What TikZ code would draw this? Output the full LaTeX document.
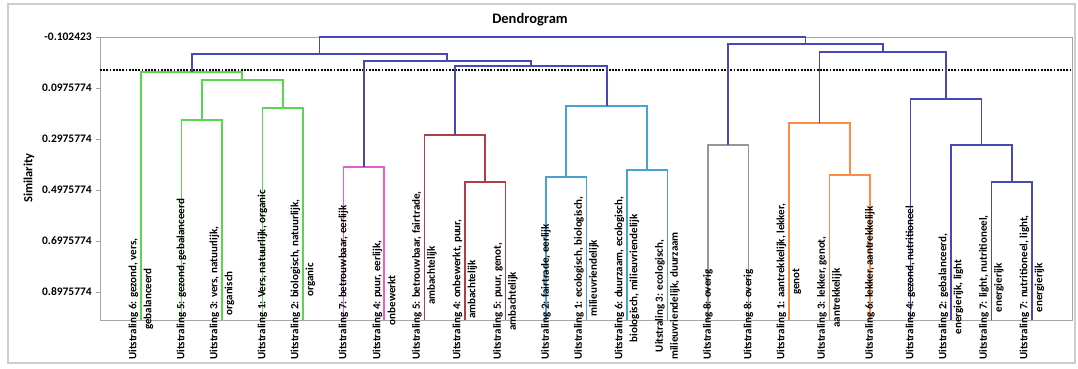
\documentclass[tikz,border=0pt]{standalone}
\usepackage{fontspec}
\setmainfont{Carlito}
\definecolor{cgreen}{RGB}{88,214,80}
\definecolor{cblue}{RGB}{72,72,182}
\definecolor{cpink}{RGB}{232,92,204}
\definecolor{cbrown}{RGB}{176,62,72}
\definecolor{ccyan}{RGB}{72,162,210}
\definecolor{cgrey}{RGB}{150,150,150}
\definecolor{corange}{RGB}{250,140,70}
\definecolor{frameg}{RGB}{165,165,165}
\definecolor{outerg}{RGB}{205,205,205}
\begin{document}
\begin{tikzpicture}[x=1pt,y=-1pt,
  link/.style={line width=1.8pt},
  leaflabel/.style={rotate=90,anchor=west,align=center,inner sep=0pt,
    font=\bfseries\fontsize{11}{15}\selectfont},
  ticklabel/.style={anchor=east,inner sep=0pt,font=\bfseries\fontsize{11.5}{13}\selectfont},
  tickmark/.style={draw=frameg,line width=0.8pt}]
\useasboundingbox (0,0) rectangle (1078,369);
\draw[outerg,line width=1.5pt] (8,4) rectangle (1075,363);
\draw[frameg,line width=0.9pt] (100,37) rectangle (1072,320);
% title and axis
\node[font=\bfseries\fontsize{14.5}{16}\selectfont] (title) at (530,20) {Dendrogram};
\node[rotate=90,font=\bfseries\fontsize{12.5}{14}\selectfont] (ylab) at (29,178) {Similarity};
\foreach \v/\yy [count=\k] in {-0.102423/37,0.0975774/88,0.2975774/139,0.4975774/190,0.6975774/241,0.8975774/292}{
  \draw[tickmark] (96,\yy) -- (100,\yy);
  \node[ticklabel] (tk\k) at (92,\yy) {\v};
}
% cut line
\coordinate (cutA) at (100,70);
\coordinate (cutB) at (1072,70);
\draw[black,line width=1.1pt,dash pattern=on 1.8pt off 1.4pt] (cutA) -- (cutB);
% leaves
\foreach \i in {0,...,22}{
  \coordinate (L\i) at ({141+40.5*\i},320);
}
% internal nodes
\coordinate (g12) at (201.75,120);
\coordinate (g34) at (282.75,108);
\coordinate (gA) at (242.25,80);
\coordinate (gR) at (191.6,72);
\coordinate (p) at (363.75,167);
\coordinate (b89) at (485.25,182);
\coordinate (bR) at (454.9,135);
\coordinate (c01) at (566.25,177);
\coordinate (c23) at (647.25,170);
\coordinate (cR) at (606.75,106);
\coordinate (n1) at (530.8,66);
\coordinate (n2) at (447.3,61);
\coordinate (n3) at (319.4,54);
\coordinate (gy) at (728.25,145);
\coordinate (o78) at (849.75,175);
\coordinate (oR) at (819.4,123);
\coordinate (bl) at (1011.75,182);
\coordinate (bl2) at (981.4,145);
\coordinate (bl3) at (946,99);
\coordinate (m1) at (882.7,52);
\coordinate (m2) at (805.5,44);
\coordinate (root) at (562.4,37);
% green
\draw[link,cgreen] (L1) |- (g12) -| (L2);
\draw[link,cgreen] (L3) |- (g34) -| (L4);
\draw[link,cgreen] (g12) |- (gA) -| (g34);
\draw[link,cgreen] (L0) |- (gR) -| (gA);
% pink
\draw[link,cpink] (L5) |- (p) -| (L6);
% brown
\draw[link,cbrown] (L8) |- (b89) -| (L9);
\draw[link,cbrown] (L7) |- (bR) -| (b89);
% cyan
\draw[link,ccyan] (L10) |- (c01) -| (L11);
\draw[link,ccyan] (L12) |- (c23) -| (L13);
\draw[link,ccyan] (c01) |- (cR) -| (c23);
% grey
\draw[link,cgrey] (L14) |- (gy) -| (L15);
% orange
\draw[link,corange] (L17) |- (o78) -| (L18);
\draw[link,corange] (L16) |- (oR) -| (o78);
% blue cluster
\draw[link,cblue] (L21) |- (bl) -| (L22);
\draw[link,cblue] (L20) |- (bl2) -| (bl);
\draw[link,cblue] (L19) |- (bl3) -| (bl2);
% upper links
\draw[link,cblue] (bR) |- (n1) -| (cR);
\draw[link,cblue] (p) |- (n2) -| (n1);
\draw[link,cblue] (gR) |- (n3) -| (n2);
\draw[link,cblue] (oR) |- (m1) -| (bl3);
\draw[link,cblue] (gy) |- (m2) -| (m1);
\draw[link,cblue] (n3) |- (root) -| (m2);
% labels
\node[leaflabel] (t0) at (141,360) {Uitstraling 6: gezond, vers,\\gebalanceerd};
\node[leaflabel] (t1) at (181.5,360) {Uitstraling 5: gezond, gebalanceerd};
\node[leaflabel] (t2) at (222,360) {Uitstraling 3: vers, natuurlijk,\\organisch};
\node[leaflabel] (t3) at (262.5,360) {Uitstraling 1: Vers, natuurlijk, organic};
\node[leaflabel] (t4) at (303,360) {Uitstraling 2: biologisch, natuurlijk,\\organic};
\node[leaflabel] (t5) at (343.5,360) {Uitstraling 7: betrouwbaar, eerlijk};
\node[leaflabel] (t6) at (384,360) {Uitstraling 4: puur, eerlijk,\\onbewerkt};
\node[leaflabel] (t7) at (424.5,360) {Uitstraling 5: betrouwbaar, fairtrade,\\ambachtelijk};
\node[leaflabel] (t8) at (465,360) {Uitstraling 4: onbewerkt, puur,\\ambachtelijk};
\node[leaflabel] (t9) at (505.5,360) {Uitstraling 5: puur, genot,\\ambachtelijk};
\node[leaflabel] (t10) at (546,360) {Uitstraling 2: fairtrade, eerlijk};
\node[leaflabel] (t11) at (586.5,360) {Uitstraling 1: ecologisch, biologisch,\\milieuvriendelijk};
\node[leaflabel] (t12) at (627,360) {Uitstraling 6: duurzaam, ecologisch,\\biologisch, milieuvriendelijk};
\node[leaflabel] (t13) at (667.5,360) {Uitstraling 3: ecologisch,\\milieuvriendelijk, duurzaam};
\node[leaflabel] (t14) at (708,360) {Uitstraling 8: overig};
\node[leaflabel] (t15) at (748.5,360) {Uitstraling 8: overig};
\node[leaflabel] (t16) at (789,360) {Uitstraling 1: aantrekkelijk, lekker,\\genot};
\node[leaflabel] (t17) at (829.5,360) {Uitstraling 3: lekker, genot,\\aantrekkelijk};
\node[leaflabel] (t18) at (870,360) {Uitstraling 6: lekker, aantrekkelijk};
\node[leaflabel] (t19) at (910.5,360) {Uitstraling 4: gezond, nutritioneel};
\node[leaflabel] (t20) at (951,360) {Uitstraling 2: gebalanceerd,\\energierijk, light};
\node[leaflabel] (t21) at (991.5,360) {Uitstraling 7: light, nutritioneel,\\energierijk};
\node[leaflabel] (t22) at (1032,360) {Uitstraling 7: nutritioneel, light,\\energierijk};
\end{tikzpicture}
\end{document}
